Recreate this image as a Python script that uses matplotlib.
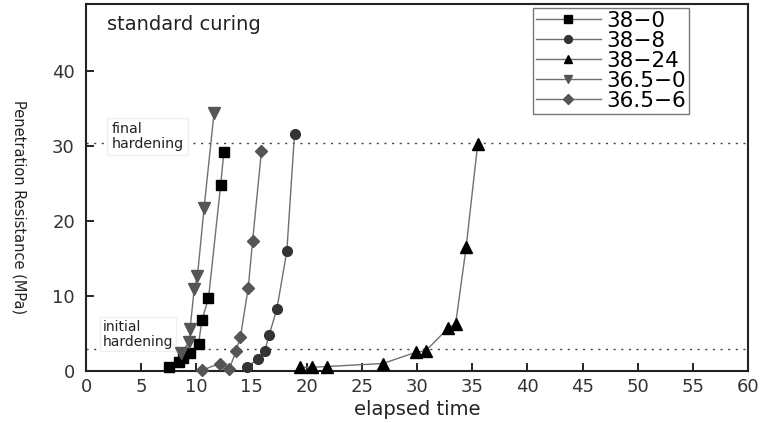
import numpy as np
import matplotlib
matplotlib.use('Agg')
import matplotlib.pyplot as plt

plt.rcParams['font.family'] = ['DejaVu Sans']

# values (elapsed time, penetration resistance MPa)
t_38_0 = [7.5, 8.4, 8.8, 9.4, 10.2, 10.5, 11.1, 12.2, 12.5]
p_38_0 = [0.6, 1.2, 1.8, 2.4, 3.6, 6.8, 9.7, 24.8, 29.3]

t_38_8 = [14.6, 15.6, 16.2, 16.6, 17.3, 18.2, 18.9]
p_38_8 = [0.6, 1.6, 2.7, 4.8, 8.3, 16.0, 31.7]

t_38_24 = [19.4, 20.5, 21.8, 26.9, 29.9, 30.8, 32.8, 33.5, 34.45, 35.5]
p_38_24 = [0.5, 0.5, 0.6, 1.0, 2.5, 2.7, 5.7, 6.3, 16.5, 30.3]

t_365_0 = [8.6, 9.37, 9.43, 9.8, 10.1, 10.7, 11.6]
p_365_0 = [2.4, 3.9, 5.6, 10.9, 12.7, 21.8, 34.4]

t_365_6 = [10.5, 12.1, 13.0, 13.6, 14.0, 14.7, 15.1, 15.9]
p_365_6 = [0.1, 1.0, 0.3, 2.7, 4.6, 11.1, 17.4, 29.4]

initial_hardening = 3.0
final_hardening = 30.4

fig = plt.figure(figsize=(7.6, 4.23), dpi=100)
ax = fig.add_axes([0.1132, 0.1229, 0.8710, 0.8676])

line_col = '#707070'
ax.plot(t_38_0, p_38_0, color=line_col, lw=1, marker='s', ms=6.5,
        mfc='black', mec='black', label='38\u22120', clip_on=False, zorder=3)
ax.plot(t_38_8, p_38_8, color=line_col, lw=1, marker='o', ms=7,
        mfc='#333333', mec='#333333', label='38\u22128', clip_on=False, zorder=3)
ax.plot(t_38_24, p_38_24, color=line_col, lw=1, marker='^', ms=8,
        mfc='black', mec='black', label='38\u221224', clip_on=False, zorder=3)
ax.plot(t_365_0, p_365_0, color=line_col, lw=1, marker='v', ms=8,
        mfc='#555555', mec='#555555', label='36.5\u22120', clip_on=False, zorder=3)
ax.plot(t_365_6, p_365_6, color=line_col, lw=1, marker='D', ms=6.5,
        mfc='#555555', mec='#555555', label='36.5\u22126', clip_on=False, zorder=3)

ax.axhline(final_hardening, color='#444444', lw=1, ls=(0, (1.5, 4)), zorder=1)
ax.axhline(initial_hardening, color='#444444', lw=1, ls=(0, (1.5, 4)), zorder=1)

ax.text(2.3, 31.3, 'final\nhardening', fontsize=10.3, color='#222222',
        va='center', ha='left', linespacing=1.05,
        bbox=dict(facecolor='white', edgecolor='#f0f0f0', pad=3), zorder=2)
ax.text(1.55, 4.9, 'initial\nhardening', fontsize=10, color='#222222',
        va='center', ha='left', linespacing=1.05,
        bbox=dict(facecolor='white', edgecolor='#f0f0f0', pad=2), zorder=2)
ax.text(1.9, 46.3, 'standard curing', fontsize=14, color='#222222',
        va='center', ha='left')

ax.set_xlim(0, 60)
ax.set_ylim(0, 49)
ax.set_xticks(np.arange(0, 61, 5))
ax.set_yticks([0, 10, 20, 30, 40])
ax.tick_params(direction='in', length=6, width=1.2, labelsize=13,
               labelcolor='#333333', pad=5)
ax.tick_params(axis='y', pad=8)
for s in ax.spines.values():
    s.set_linewidth(1.5)
    s.set_color('#222222')

ax.set_xlabel('elapsed time', fontsize=14, color='#222222', labelpad=3)
ax.set_ylabel('Penetration Resistance (MPa)', fontsize=10.5, color='#222222',
              rotation=270)
ax.yaxis.set_label_coords(-0.112, 0.447)

leg = ax.legend(loc='upper left', bbox_to_anchor=(0.675, 0.99), fontsize=15.5,
                frameon=True, fancybox=False, edgecolor='#555555',
                handlelength=3.0, handletextpad=0.25, labelspacing=0.0,
                borderpad=0.15, borderaxespad=0, markerscale=0.8)
leg.get_frame().set_linewidth(1)

fig.savefig('out.png', dpi=100)
